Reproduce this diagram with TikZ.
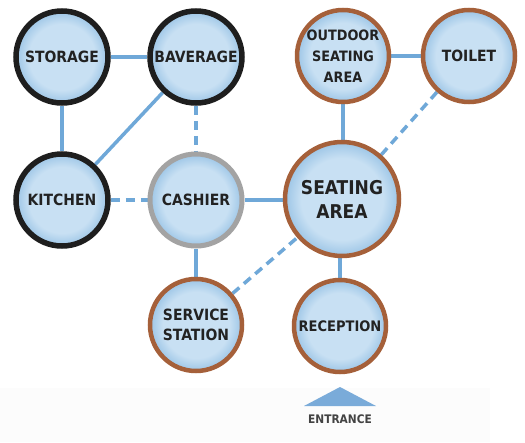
\documentclass[tikz,border=0pt]{standalone}
\usepackage{fontspec}
\setmainfont{DejaVu Sans Condensed}
\usetikzlibrary{backgrounds}
\definecolor{cin}{HTML}{C8E0F3}
\definecolor{cout}{HTML}{9CC5E6}
\definecolor{linkc}{HTML}{6FA8D8}
\definecolor{brownc}{HTML}{A5603A}
\definecolor{grayc}{HTML}{A3A3A3}
\definecolor{blackc}{HTML}{1E1E1E}
\definecolor{textc}{HTML}{222222}
\definecolor{bandc}{HTML}{FCFCFC}
\definecolor{tric}{HTML}{7AABD9}
\pgfdeclareradialshading{ring}{\pgfpoint{0bp}{0bp}}{color(0bp)=(cin); color(18bp)=(cin); color(25bp)=(cout); color(50bp)=(cout)}
\begin{document}
\begin{tikzpicture}[x=1pt,y=-1pt,
  room/.style={circle, shade, shading=ring, minimum size=92pt, inner sep=0pt, align=center,
    font=\fontsize{15.5}{20.5}\selectfont\bfseries, text=textc},
  blk/.style={room, draw=blackc, line width=5.5pt},
  brn/.style={room, draw=brownc, line width=4.5pt},
  gry/.style={room, draw=grayc, line width=5pt},
  link/.style={draw=linkc, line width=3.5pt},
  dlink/.style={link, dash pattern=on 9pt off 6pt}]
\useasboundingbox (0,0) rectangle (525,442);
% nodes
\node[blk] (storage) at (62,57) {STORAGE};
\node[blk] (bav) at (196,57) {BAVERAGE};
\node[blk] (kitchen) at (62,200) {KITCHEN};
\node[gry] (cashier) at (196,200) {CASHIER};
\node[brn, font=\fontsize{14.3}{21}\selectfont\bfseries] (outdoor) at (343,56) {OUTDOOR\\SEATING\\AREA};
\node[brn] (toilet) at (469,56) {TOILET};
\node[brn, minimum size=114pt, font=\fontsize{19}{24}\selectfont\bfseries] (seating) at (342,199) {SEATING\\AREA};
\node[brn] (service) at (196,325) {SERVICE\\STATION};
\node[brn, font=\fontsize{14.5}{18}\selectfont\bfseries] (reception) at (340,326) {RECEPTION};
% connectors
\begin{pgfonlayer}{background}
\fill[white] (0,0) rectangle (525,442);
\fill[bandc] (0,388) rectangle (490,442);
\draw[link] (storage) -- (bav);
\draw[link] (storage) -- (kitchen);
\draw[link] (kitchen) -- (bav);
\draw[dlink] (bav) -- (cashier);
\draw[dlink] (kitchen) -- (cashier);
\draw[link] (cashier.east) -- (cashier.east -| seating.west);
\draw[link] (cashier) -- (service);
\draw[dlink] (service) -- (seating);
\draw[link] (outdoor) -- (toilet);
\draw[link] (outdoor.south) -- (outdoor.south |- seating.north);
\draw[dlink] (toilet) -- (seating);
\draw[link] (seating.south -| reception.north) -- (reception);
\end{pgfonlayer}
% entrance
\coordinate (ta) at (340,387);
\coordinate (tl) at (304,406);
\coordinate (tr) at (376,406);
\fill[tric] (tl) -- (ta) -- (tr) -- cycle;
\node[font=\fontsize{11.8}{13}\selectfont\bfseries, text=textc!85] (entr) at (340,419) {ENTRANCE};
\end{tikzpicture}
\end{document}
